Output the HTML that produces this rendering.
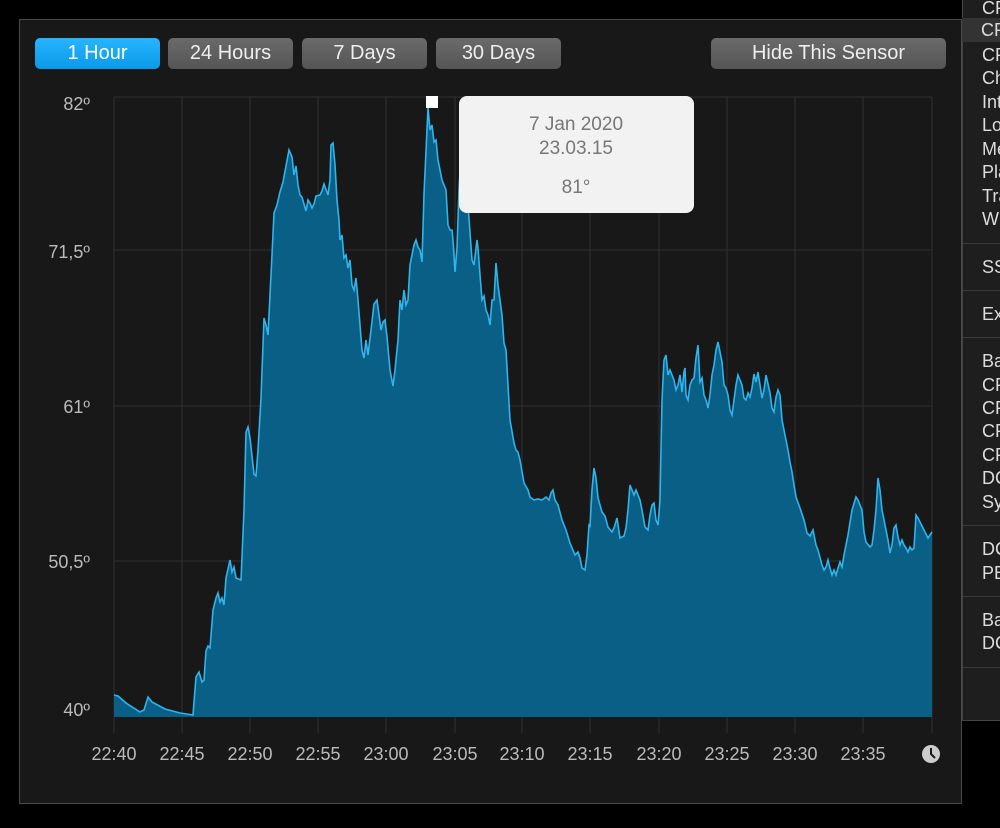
<!DOCTYPE html>
<html><head><meta charset="utf-8"><style>
body{margin:0;background:#000;width:1000px;height:828px;overflow:hidden;font-family:"Liberation Sans",sans-serif;position:relative}
.panel{position:absolute;left:19px;top:19px;width:941px;height:783px;background:#181818;border:1px solid #4a4a4a}
.btn{position:absolute;top:38px;height:31px;border-radius:5px;background:linear-gradient(#6a6a6a,#555);color:#eee;font-size:20px;line-height:31px;text-align:center}
.btn.on{background:linear-gradient(#27b4ff,#0a9ae8);color:#fff}
.menu{position:absolute;left:962px;top:0;width:40px;height:720px;background:#1e1e1e;border-left:1px solid #444;border-bottom:1px solid #444;color:#ddd;font-size:18px}
.menu div{position:absolute;left:19px}
.sep{position:absolute;left:0;width:40px;height:1px;background:#3a3a3a}
</style></head><body>
<div class="panel"></div>
<div class="btn on" style="left:35px;width:125px">1 Hour</div>
<div class="btn" style="left:168px;width:125px">24 Hours</div>
<div class="btn" style="left:302px;width:125px">7 Days</div>
<div class="btn" style="left:436px;width:125px">30 Days</div>
<div class="btn" style="left:711px;width:235px">Hide This Sensor</div>
<svg style="position:absolute;left:0;top:0" width="1000" height="828">
<g stroke="#303030" stroke-width="1">
<line x1="114" y1="97" x2="932" y2="97"/><line x1="114" y1="250" x2="932" y2="250"/><line x1="114" y1="406" x2="932" y2="406"/><line x1="114" y1="561" x2="932" y2="561"/>
<line x1="114" y1="97" x2="114" y2="733"/><line x1="182" y1="97" x2="182" y2="733"/><line x1="250" y1="97" x2="250" y2="733"/><line x1="318" y1="97" x2="318" y2="733"/><line x1="386" y1="97" x2="386" y2="733"/><line x1="455" y1="97" x2="455" y2="733"/><line x1="522" y1="97" x2="522" y2="733"/><line x1="590" y1="97" x2="590" y2="733"/><line x1="659" y1="97" x2="659" y2="733"/><line x1="727" y1="97" x2="727" y2="733"/><line x1="795" y1="97" x2="795" y2="733"/><line x1="863" y1="97" x2="863" y2="733"/><line x1="932" y1="97" x2="932" y2="733"/>
</g>
<polygon id="area" fill="#0a5f86" points=""/>
<polyline id="line" fill="none" stroke="#2fb4ec" stroke-width="1.6" points=""/>
<g fill="#bbb" font-size="18" text-anchor="end" font-family="Liberation Sans">
<text x="90" y="110">82º</text><text x="90" y="258">71,5º</text><text x="90" y="413">61º</text><text x="90" y="568">50,5º</text><text x="90" y="716">40º</text>
</g>
<g fill="#bbb" font-size="18" text-anchor="middle" font-family="Liberation Sans">
<text x="114" y="760">22:40</text><text x="182" y="760">22:45</text><text x="250" y="760">22:50</text><text x="318" y="760">22:55</text><text x="386" y="760">23:00</text><text x="455" y="760">23:05</text><text x="522" y="760">23:10</text><text x="590" y="760">23:15</text><text x="659" y="760">23:20</text><text x="727" y="760">23:25</text><text x="795" y="760">23:30</text><text x="863" y="760">23:35</text>
</g>
<circle cx="931" cy="754" r="9" fill="#ccc"/><path d="M931 748v6l4 4" stroke="#181818" stroke-width="2" fill="none"/>
<rect x="426" y="96" width="12" height="12" fill="#fff"/>
<rect x="459" y="96" width="235" height="117" rx="8" fill="#f2f2f2"/>
<g fill="#777" font-size="19" text-anchor="middle" font-family="Liberation Sans">
<text x="576" y="130">7 Jan 2020</text><text x="576" y="154">23.03.15</text><text x="576" y="193">81°</text>
</g>
</svg>
<div class="menu">
<div style="top:-2px">CPU</div>
<div style="top:0;left:0;width:40px;height:1px"></div>
<div style="top:22px">CPU</div><div style="top:45px">CPU</div><div style="top:68px">Chi</div><div style="top:92px">Int</div><div style="top:115px">Lo</div><div style="top:139px">Me</div><div style="top:162px">Pla</div><div style="top:186px">Tra</div><div style="top:209px">Wi</div>
<span class="sep" style="top:243px"></span>
<div style="top:257px">SS</div>
<span class="sep" style="top:290px"></span>
<div style="top:304px">Ex</div>
<span class="sep" style="top:337px"></span>
<div style="top:351px">Ba</div><div style="top:375px">CP</div><div style="top:398px">CP</div><div style="top:421px">CP</div><div style="top:445px">CP</div><div style="top:468px">DC</div><div style="top:492px">Sy</div>
<span class="sep" style="top:525px"></span>
<div style="top:539px">DC</div><div style="top:563px">PE</div>
<span class="sep" style="top:596px"></span>
<div style="top:610px">Ba</div><div style="top:633px">DC</div>
<span class="sep" style="top:667px"></span>
</div>
<div style="position:absolute;left:962px;top:18px;width:40px;height:24px;background:#333"></div>
<div style="position:absolute;left:981px;top:20px;color:#ddd;font-size:18px">CP</div>
<script>
var p="114,695 118,696 126,703 140,712 144,710 148,697 152,702 165,709 180,713 193,715 196,677 199,672 202,682 204,680 206,651 208,646 210,648 213,610 216,598 218,593 220,602 222,598 224,605 226,578 230,560 232,572 234,567 236,578 241,580 244,510 246,432 248,427 250,438 254,474 256,476 258,450 261,398 264,318 266,325 268,335 272,255 274,213 277,205 280,192 283,182 286,166 289,150 292,157 294,175 296,166 298,185 300,195 302,197 304,204 306,211 308,200 310,203 312,208 314,204 316,196 320,195 322,191 324,184 328,195 330,180 331,145 333,143 335,165 337,200 339,220 340,240 342,235 344,258 346,255 348,268 350,260 352,285 354,290 356,278 358,300 360,325 362,350 364,358 366,340 368,355 371,330 374,304 377,300 379,315 381,330 383,322 385,320 387,337 390,370 393,386 395,370 398,340 400,300 402,310 404,290 406,305 408,300 410,265 414,245 416,240 418,247 420,250 422,262 424,194 428,108 430,130 432,125 434,142 436,140 438,160 442,180 446,190 448,225 450,230 452,230 453,240 455,272 457,248 459,190 460,172 462,170 464,178 466,195 468,205 472,260 474,265 477,240 478,248 480,275 482,300 484,296 486,310 488,315 490,325 492,300 494,300 496,263 498,285 500,300 502,315 504,343 506,350 510,420 514,443 516,450 518,452 520,460 524,483 528,490 530,497 534,500 538,499 542,500 546,497 549,500 551,493 553,490 555,500 558,505 562,520 566,530 570,543 575,555 578,552 580,558 582,568 585,570 587,555 589,525 590,526 592,490 594,468 596,478 598,498 602,512 605,516 608,527 612,532 614,528 617,518 620,538 624,536 626,528 628,510 630,485 632,490 634,495 636,490 638,495 640,500 642,510 645,527 648,530 650,515 652,505 654,503 656,520 658,525 660,500 662,400 664,360 666,355 668,375 670,370 674,380 676,390 678,385 680,375 682,392 684,372 685,368 686,395 688,400 690,385 692,380 694,378 696,358 698,345 700,382 702,378 704,395 706,400 708,408 710,395 712,375 714,365 716,350 718,342 720,352 722,362 724,385 726,388 728,395 730,410 732,415 734,400 736,385 738,375 740,380 742,385 744,398 746,400 748,393 750,397 752,388 754,374 756,382 758,372 762,398 764,390 766,375 768,384 770,393 772,408 774,412 776,397 778,390 780,395 782,420 784,430 786,440 788,450 790,462 792,472 794,485 796,497 800,508 804,520 807,533 810,536 813,530 816,545 818,550 822,565 824,570 826,567 828,560 830,568 832,575 834,570 836,575 838,568 840,562 842,567 844,555 848,535 852,510 856,497 858,500 860,505 862,510 864,532 866,542 870,547 872,545 874,530 876,510 878,478 880,490 882,510 884,520 886,530 888,540 890,553 892,545 894,528 896,525 898,537 900,545 902,540 904,545 906,548 908,552 910,547 912,550 914,548 916,515 918,518 920,522 924,530 928,538 930,535 932,532";
document.getElementById('line').setAttribute('points',p);
document.getElementById('area').setAttribute('points','114,717 '+p+' 932,717');
</script>
</body></html>
